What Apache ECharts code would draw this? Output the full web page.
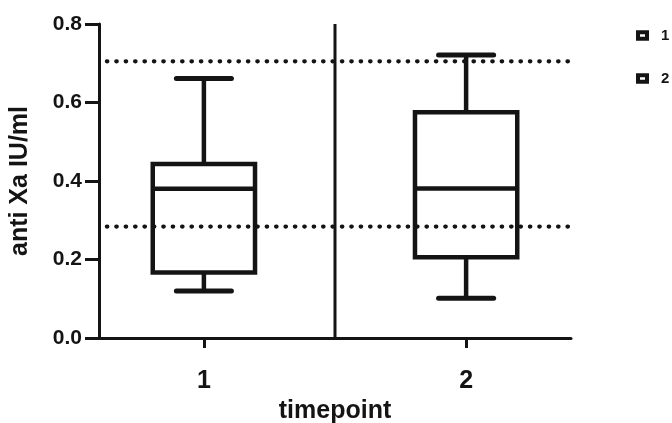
<!DOCTYPE html>
<html><head><meta charset="utf-8">
<script src="https://cdn.jsdelivr.net/npm/echarts@6/dist/echarts.min.js"></script>
<style>html,body{margin:0;padding:0;background:#fff}#c{width:672px;height:423px}</style>
</head><body><div id="c"></div>
<script>
const categories = [1, 2];
const seriesNames = ['1', '2'];
// [min, Q1, median, Q3, max]
const boxMin = [0.12, 0.101];
const boxQ1 = [0.167, 0.206];
const boxMedian = [0.38, 0.381];
const boxQ3 = [0.443, 0.575];
const boxMax = [0.661, 0.721];
const refLines = [0.705, 0.284];
const refLineStart = 0.63;
const refLineEnd = 2.41;
const separatorX = 1.5;
const yTicks = [0, 0.2, 0.4, 0.6, 0.8];

const FONT = "'Liberation Sans', Arial, sans-serif";
const INK = '#141414';

function renderBox(params, api) {
  const x = api.value(0);
  const pMin = api.coord([x, api.value(1)]);
  const pQ1 = api.coord([x, api.value(2)]);
  const pMed = api.coord([x, api.value(3)]);
  const pQ3 = api.coord([x, api.value(4)]);
  const pMax = api.coord([x, api.value(5)]);
  const unit = api.size([1, 0])[0];
  const bw = unit * 0.39;
  const cw = unit * 0.21;
  const cx = pMed[0];
  const lw = 4.5;
  const ls = { stroke: INK, lineWidth: lw, fill: null };
  const capStyle = { stroke: INK, lineWidth: 5, lineCap: 'round' };
  return {
    type: 'group',
    children: [
      { type: 'line', shape: { x1: cx, y1: pQ3[1], x2: cx, y2: pMax[1] }, style: ls },
      { type: 'line', shape: { x1: cx, y1: pQ1[1], x2: cx, y2: pMin[1] }, style: ls },
      { type: 'line', shape: { x1: cx - cw / 2, y1: pMax[1], x2: cx + cw / 2, y2: pMax[1] }, style: capStyle },
      { type: 'line', shape: { x1: cx - cw / 2, y1: pMin[1], x2: cx + cw / 2, y2: pMin[1] }, style: capStyle },
      { type: 'rect', shape: { x: cx - bw / 2, y: pQ3[1], width: bw, height: pQ1[1] - pQ3[1] }, style: { stroke: INK, lineWidth: lw, fill: '#fff' } },
      { type: 'line', shape: { x1: cx - bw / 2, y1: pMed[1], x2: cx + bw / 2, y2: pMed[1] }, style: ls }
    ]
  };
}

const series = [];
categories.forEach((c, i) => {
  series.push({
    name: seriesNames[i],
    type: 'custom',
    renderItem: renderBox,
    encode: { x: 0, y: [1, 2, 3, 4, 5] },
    data: [[c, boxMin[i], boxQ1[i], boxMedian[i], boxQ3[i], boxMax[i]]],
    z: 3,
    itemStyle: { color: '#fff', borderColor: INK, borderWidth: 4 }
  });
});
series.push({
  type: 'line', data: [[separatorX, 0], [separatorX, yTicks[yTicks.length - 1]]],
  showSymbol: false, symbol: 'none', silent: true, z: 2,
  lineStyle: { color: INK, width: 3 }
});
refLines.forEach(v => {
  series.push({
    type: 'line', data: [[refLineStart, v], [refLineEnd, v]],
    showSymbol: false, symbol: 'none', silent: true, clip: false, z: 5,
    lineStyle: { color: INK, width: 4.2, type: [0.5, 8.9], cap: 'round' }
  });
});

const chart = echarts.init(document.getElementById('c'), null, { renderer: 'canvas' });
chart.setOption({
  animation: false,
  backgroundColor: '#fff',
  textStyle: { fontFamily: FONT },
  grid: { left: 99, right: 101, top: 24, bottom: 85, containLabel: false, outerBoundsMode: 'none' },
  legend: {
    orient: 'vertical', left: 636, top: 28, itemGap: 28, padding: 0,
    data: seriesNames,
    icon: 'rect', itemWidth: 9, itemHeight: 6.5,
    itemStyle: { color: '#fff', borderColor: INK, borderWidth: 4 },
    textStyle: { fontFamily: FONT, fontWeight: 'bold', fontSize: 15, color: INK, padding: [0, 0, 0, 9] }
  },
  xAxis: {
    type: 'value', min: 0.6, max: 2.4,
    name: 'timepoint', nameLocation: 'middle', nameGap: 56,
    nameTextStyle: { fontFamily: FONT, fontWeight: 'bold', fontSize: 25, color: INK },
    splitLine: { show: false },
    axisLine: { show: true, onZero: false, lineStyle: { color: INK, width: 3 } },
    axisTick: { show: true, customValues: categories, length: 10, lineStyle: { color: INK, width: 3 } },
    axisLabel: { show: true, customValues: categories, margin: 31, fontFamily: FONT, fontWeight: 'bold', fontSize: 25, color: INK }
  },
  yAxis: {
    type: 'value', min: 0, max: 0.8, interval: 0.2,
    name: 'anti Xa IU/ml', nameLocation: 'middle', nameGap: 66, nameRotate: 90,
    nameTextStyle: { fontFamily: FONT, fontWeight: 'bold', fontSize: 25, color: INK },
    splitLine: { show: false },
    axisLine: { show: true, lineStyle: { color: INK, width: 3 } },
    axisTick: { show: true, length: 14, lineStyle: { color: INK, width: 3 } },
    axisLabel: { margin: 17, fontFamily: FONT, fontWeight: 'bold', fontSize: 21, color: INK, formatter: v => v.toFixed(1) }
  },
  series: series
});
</script></body></html>
